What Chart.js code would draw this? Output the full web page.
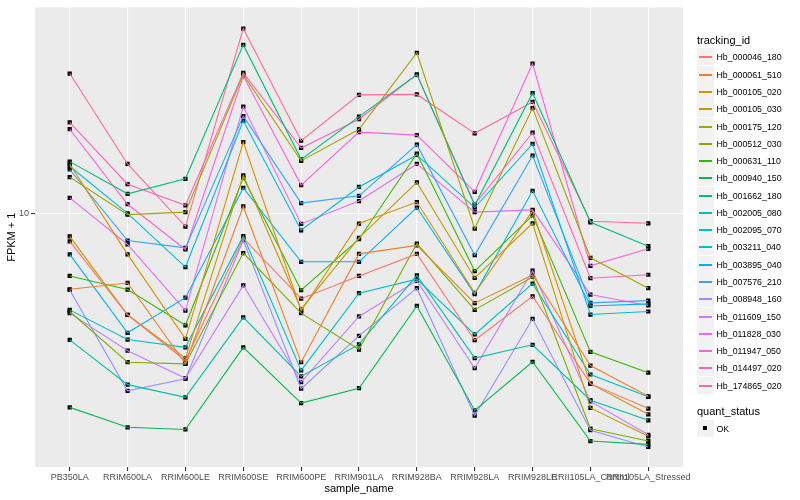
<!DOCTYPE html>
<html>
<head>
<meta charset="utf-8">
<script src="https://cdn.jsdelivr.net/npm/chart.js@4.4.1/dist/chart.umd.min.js"></script>
<style>
  body { margin: 0; background: #fff; }
  #wrap { position: relative; width: 800px; height: 500px; font-family: "Liberation Sans", Arial, sans-serif; }
  #chart { position: absolute; left: 0; top: 0; }
  .ltitle { position: absolute; left: 697px; font-size: 11px; line-height: 13px; color: #000; white-space: nowrap; }
  .key { position: absolute; left: 697px; width: 17px; height: 17px; background: #F2F2F2; }
  .key .ln { position: absolute; left: 2px; width: 13px; top: 8px; height: 1.5px; }
  .key .pt { position: absolute; left: 6px; top: 6px; width: 4px; height: 4px; background: #000; }
  .lab { position: absolute; left: 716.5px; font-size: 8.8px; line-height: 10px; color: #000; white-space: nowrap; }
</style>
</head>
<body>
<div id="wrap">
  <canvas id="chart" width="800" height="500"></canvas>
  <div id="legend"></div>
</div>
<script>
// sample names on the x axis
const samples = ["PB350LA", "RRIM600LA", "RRIM600LE", "RRIM600SE", "RRIM600PE", "RRIM901LA",
  "RRIM928BA", "RRIM928LA", "RRIM928LE", "RRII105LA_Control", "RRII105LA_Stressed"];

// FPKM + 1, one array per tracking id (same order as samples)
const hb000046_180 = [7.88, 4.23, 2.87, 8.10, 4.85, 5.88, 7.09, 3.41, 4.95, 2.36, 1.91];
const hb000061_510 = [5.25, 5.54, 2.80, 10.6, 2.83, 7.09, 7.62, 4.67, 5.93, 2.75, 2.12];
const hb000105_020 = [15.2, 7.06, 3.45, 18.3, 4.38, 9.17, 11.0, 5.09, 10.2, 2.36, 1.82];
const hb000105_030 = [8.22, 4.23, 2.93, 13.8, 4.44, 8.12, 13.0, 5.78, 9.19, 1.92, 1.51];
const hb000175_120 = [13.6, 9.89, 10.1, 32.4, 15.6, 20.4, 39.0, 8.79, 24.4, 6.86, 5.30];
const hb000512_030 = [4.35, 2.83, 2.79, 7.14, 4.29, 3.15, 7.74, 4.41, 5.83, 1.61, 1.45];
const hb000631_110 = [5.88, 5.24, 3.87, 13.5, 5.21, 8.03, 16.6, 6.13, 9.83, 3.09, 2.59];
const hb000940_150 = [1.93, 1.63, 1.60, 3.21, 2.00, 2.27, 4.56, 1.88, 2.84, 1.45, 1.41];
const hb001662_180 = [15.5, 11.8, 13.4, 41.7, 15.8, 22.7, 32.4, 10.7, 27.7, 9.27, 7.57];
const hb002005_080 = [3.42, 2.34, 2.10, 4.14, 2.51, 3.29, 5.91, 2.93, 3.28, 2.05, 1.73];
const hb002095_070 = [4.41, 3.43, 3.21, 8.24, 2.64, 5.08, 5.72, 3.58, 5.51, 2.55, 2.11];
const hb003211_040 = [14.9, 10.0, 6.34, 21.9, 8.66, 12.5, 16.4, 10.5, 18.0, 4.24, 4.35];
const hb003895_040 = [7.06, 3.63, 4.89, 12.4, 6.63, 6.63, 10.5, 5.04, 12.1, 4.56, 4.64];
const hb007576_210 = [14.5, 7.94, 7.46, 22.8, 10.9, 11.6, 17.9, 7.02, 16.3, 4.68, 4.77];
const hb008948_160 = [5.22, 2.22, 2.46, 7.96, 2.26, 3.54, 5.30, 1.80, 4.09, 1.59, 1.38];
const hb011609_150 = [4.29, 3.12, 2.47, 5.43, 2.39, 4.17, 5.64, 2.69, 6.15, 2.03, 1.53];
const hb011828_030 = [11.4, 7.68, 4.38, 24.7, 9.14, 11.1, 15.2, 10.1, 10.3, 5.02, 4.58];
const hb011947_050 = [20.4, 10.8, 7.36, 32.0, 12.7, 19.9, 19.4, 12.0, 35.6, 6.41, 7.40];
const hb014497_020 = [21.6, 12.8, 10.7, 32.9, 17.4, 22.2, 32.4, 10.8, 19.8, 5.77, 5.94];
const hb174865_020 = [32.7, 15.2, 8.94, 47.9, 18.5, 27.3, 27.4, 19.7, 25.7, 9.35, 9.19];

const trackingIds = ["Hb_000046_180", "Hb_000061_510", "Hb_000105_020", "Hb_000105_030", "Hb_000175_120",
  "Hb_000512_030", "Hb_000631_110", "Hb_000940_150", "Hb_001662_180", "Hb_002005_080",
  "Hb_002095_070", "Hb_003211_040", "Hb_003895_040", "Hb_007576_210", "Hb_008948_160",
  "Hb_011609_150", "Hb_011828_030", "Hb_011947_050", "Hb_014497_020", "Hb_174865_020"];
const seriesValues = [hb000046_180, hb000061_510, hb000105_020, hb000105_030, hb000175_120,
  hb000512_030, hb000631_110, hb000940_150, hb001662_180, hb002005_080,
  hb002095_070, hb003211_040, hb003895_040, hb007576_210, hb008948_160,
  hb011609_150, hb011828_030, hb011947_050, hb014497_020, hb174865_020];

// ggplot default hue palette for 20 levels
const colours = ["#F8766D", "#EA8331", "#D89000", "#C09B00", "#A3A500", "#7CAE00", "#39B600", "#00BB4E",
  "#00BF7D", "#00C1A3", "#00BFC4", "#00BAE0", "#00B0F6", "#35A2FF", "#9590FF", "#C77CFF",
  "#E76BF3", "#FA62DB", "#FF62BC", "#FF6C91"];

const yTicks = [10];
const yMin = 1.164, yMax = 57.3;

const toPoints = vals => vals.map((v, i) => ({ x: i, y: v }));

const lineSets = seriesValues.map((vals, k) => ({
  label: trackingIds[k],
  data: toPoints(vals),
  borderColor: colours[k],
  borderWidth: 1.1,
  pointRadius: 0,
  tension: 0,
  fill: false
}));
// points drawn after all lines, like geom_point on top
const pointSets = seriesValues.map((vals, k) => ({
  label: trackingIds[k] + " OK",
  data: toPoints(vals),
  showLine: false,
  pointStyle: "rect",
  pointRadius: 3,
  pointBorderWidth: 0,
  pointBackgroundColor: "#000000"
}));

const panelBg = {
  id: "panelBg",
  beforeDraw(chart) {
    const { ctx, chartArea: a } = chart;
    ctx.save();
    ctx.fillStyle = "#EBEBEB";
    ctx.fillRect(a.left, a.top, a.right - a.left, a.bottom - a.top);
    ctx.restore();
  }
};

const font = "'Liberation Sans', Arial, sans-serif";

new Chart(document.getElementById("chart"), {
  type: "line",
  data: { datasets: [...lineSets, ...pointSets] },
  plugins: [panelBg],
  options: {
    responsive: false,
    animation: false,
    devicePixelRatio: 1,
    layout: { padding: { left: 0, right: 117, top: 5, bottom: 0 } },
    plugins: { legend: { display: false }, tooltip: { enabled: false } },
    scales: {
      x: {
        type: "linear",
        min: -0.6,
        max: 10.6,
        bounds: "data",
        afterBuildTicks: s => { s.ticks = samples.map((_, i) => ({ value: i })); },
        afterFit: s => { s.height = 33; },
        border: { display: false },
        grid: { color: "#FFFFFF", lineWidth: 1.1, tickColor: "#333333", tickLength: 4 },
        ticks: {
          autoSkip: false, maxRotation: 0, padding: 1.5,
          color: "#4D4D4D", font: { family: font, size: 9 },
          callback: v => samples[v]
        },
        title: { display: true, text: "sample_name", color: "#000", font: { family: font, size: 11 }, padding: { top: 0, bottom: 4 } }
      },
      y: {
        type: "logarithmic",
        min: yMin,
        max: yMax,
        bounds: "data",
        afterBuildTicks: s => { s.ticks = yTicks.map(v => ({ value: v })); },
        afterFit: s => { s.width = 35; },
        border: { display: false },
        grid: { color: "#FFFFFF", lineWidth: 1.1, tickColor: "#333333", tickLength: 4 },
        ticks: {
          padding: 2, color: "#4D4D4D", font: { family: font, size: 9 },
          callback: v => String(v)
        },
        title: { display: true, text: "FPKM + 1", color: "#000", font: { family: font, size: 11 }, padding: { top: 5, bottom: 0 } }
      }
    }
  }
});

// legend (html, ggplot style)
let html = '<div class="ltitle" style="top:33.5px">tracking_id</div>';
trackingIds.forEach((id, k) => {
  const top = Math.round(48.4 + k * 17.28);
  html += '<div class="key" style="top:' + top + 'px"><div class="ln" style="background:' + colours[k] + '"></div></div>';
  html += '<div class="lab" style="top:' + (top + 3.5) + 'px">' + id + '</div>';
});
html += '<div class="ltitle" style="top:405px">quant_status</div>';
html += '<div class="key" style="top:420px"><div class="pt"></div></div>';
html += '<div class="lab" style="top:423.5px">OK</div>';
document.getElementById("legend").innerHTML = html;
</script>
</body>
</html>
